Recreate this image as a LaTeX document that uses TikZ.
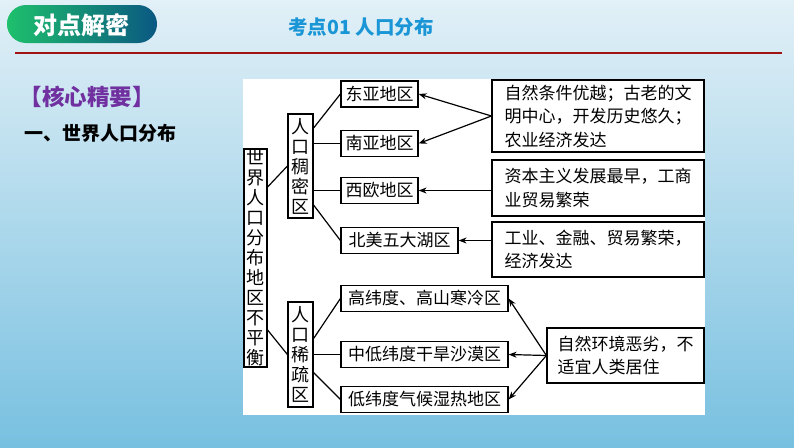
\documentclass[tikz,border=0pt]{standalone}
\usepackage{fontspec}
\setmainfont{Noto Sans CJK SC}
\usetikzlibrary{arrows.meta}
\definecolor{bgtop}{RGB}{226,240,247}
\definecolor{bgmid}{RGB}{198,227,240}
\definecolor{bgbot}{RGB}{120,192,224}
\definecolor{pillL}{RGB}{30,192,108}
\definecolor{pillR}{RGB}{10,88,130}
\definecolor{titleblue}{RGB}{26,150,214}
\definecolor{rulered}{RGB}{160,20,20}
\definecolor{kpurple}{RGB}{112,48,160}

\begin{document}
\begin{tikzpicture}[x=1pt, y=-1pt,
  box/.style={draw, line width=1.2pt, fill=white, inner sep=0pt, minimum height=26pt, font=\fontsize{17}{20}\selectfont},
  vbox/.style={draw, line width=1.2pt, fill=white, inner sep=0pt, align=center, font=\fontsize{18}{20}\selectfont},
  note/.style={draw, line width=1.2pt, fill=white, inner sep=0pt, align=left, font=\fontsize{17}{23.5}\selectfont},
  link/.style={line width=1.2pt},
  arr/.style={-{Stealth[length=8pt,width=6pt]}, line width=1.2pt}
]
\useasboundingbox (0,0) rectangle (794,447);
\shade[top color=bgtop, middle color=bgmid, bottom color=bgbot] (0,0) rectangle (794,447);
\shade[left color=pillL, right color=pillR, rounded corners=19pt] (7,5) rectangle (157,43);
\draw[rulered, line width=2pt] (15,53) -- (782,53);
\fill[white] (243,79) rectangle (705,415);

\node[text=white, font=\fontsize{24}{24}\bfseries] (tag) at (81,25) {对点解密};
\node[text=titleblue, font=\fontsize{19.5}{22}\bfseries] (title) at (361,27) {考点01 人口分布};
\node[text=kpurple, font=\fontsize{22.5}{23}\bfseries] (key) at (87,97) {【核心精要】};
\node[font=\fontsize{19}{19}\bfseries] (head) at (100,133) {一、世界人口分布};

\node[vbox, minimum width=23pt, minimum height=218pt] (world) at (255.5,258) {世\\界\\人\\口\\分\\布\\地\\区\\不\\平\\衡};
\node[vbox, minimum width=25pt, minimum height=104pt] (dense) at (300.5,166) {人\\口\\稠\\密\\区};
\node[vbox, minimum width=25pt, minimum height=105pt] (sparse) at (300.5,354.5) {人\\口\\稀\\疏\\区};

\node[box, minimum width=77pt] (eastasia) at (379.5,94) {东亚地区};
\node[box, minimum width=77pt] (southasia) at (379.5,143.5) {南亚地区};
\node[box, minimum width=77pt] (weurope) at (379.5,190.5) {西欧地区};
\node[box, minimum width=117pt] (namerica) at (399.5,240.5) {北美五大湖区};
\node[box, minimum width=167pt] (highlat) at (424.5,298.5) {高纬度、高山寒冷区};
\node[box, minimum width=167pt] (arid) at (424.5,354.5) {中低纬度干旱沙漠区};
\node[box, minimum width=167pt] (humid) at (424.5,399.5) {低纬度气候湿热地区};

\node[note, minimum width=212pt, minimum height=72pt] (boxA) at (598,116) {自然条件优越；古老的文\\明中心，开发历史悠久；\\农业经济发达};
\node[note, minimum width=212pt, minimum height=56pt] (boxB) at (598,188) {资本主义发展最早，工商\\业贸易繁荣};
\node[note, minimum width=212pt, minimum height=55pt] (boxC) at (598,249.5) {工业、金融、贸易繁荣，\\经济发达};
\node[note, minimum width=157pt, minimum height=55pt] (boxD) at (625.5,355.5) {自然环境恶劣，不\\适宜人类居住};

\draw[link] ([yshift=71pt]world.east) -- (dense.west);
\draw[link] ([yshift=-72pt]world.east) -- (sparse.west);
\draw[link] ([yshift=38pt]dense.east) -- (eastasia.west);
\draw[link] (dense.east |- southasia.west) -- (southasia.west);
\draw[link] (dense.east |- weurope.west) -- (weurope.west);
\draw[link] ([yshift=-39pt]dense.east) -- (namerica.west);
\draw[link] ([yshift=16pt]sparse.east) -- (highlat.west);
\draw[link] (sparse.east) -- (arid.west);
\draw[link] ([yshift=-18pt]sparse.east) -- (humid.west);

\draw[arr] (boxA.west) -- (eastasia.east);
\draw[arr] (boxA.west) -- (southasia.east);
\draw[arr] (boxB.west |- weurope.east) -- (weurope.east);
\draw[arr] (boxC.west |- namerica.east) -- (namerica.east);
\draw[arr] (boxD.west) -- (highlat.east);
\draw[arr] (boxD.west) -- (arid.east);
\draw[arr] (boxD.west) -- (humid.east);
\end{tikzpicture}
\end{document}
